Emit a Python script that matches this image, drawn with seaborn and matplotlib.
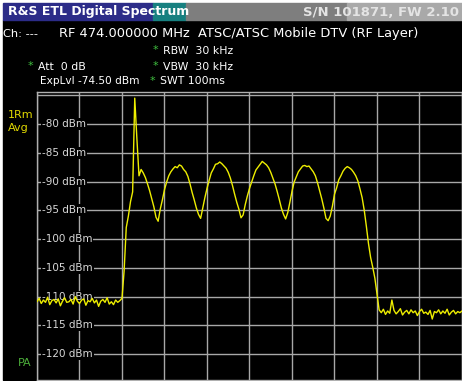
import matplotlib
matplotlib.use("Agg")
import matplotlib.pyplot as plt
from matplotlib.patches import Rectangle
import seaborn as sns
import numpy as np
import pandas as pd

# sweep settings (RF 474 MHz, span 10 MHz)
start_mhz = 469.0
stop_mhz = 479.0
n_points = 201

# trace levels, dBm, one per sweep point
noise_left = [
    -110.9, -110.3, -111.2, -110.6, -111.0, -110.1, -111.4, -110.7, -110.5, -111.1,
    -110.4, -111.6, -110.8, -110.2, -111.0, -110.9, -110.5, -111.3, -110.0, -110.8,
    -111.2, -110.6, -110.4, -111.5, -110.7, -110.9, -110.3, -111.1, -110.6, -111.7,
    -110.8, -110.5, -111.0, -110.2, -111.3, -110.9, -111.4, -110.6, -111.0, -110.7,
    -110.3,
]
channel = [
    -105.5, -98.0, -96.0, -93.5, -91.8, -75.5, -82.5, -89.0, -87.9, -88.5,
    -89.3, -90.4, -91.6, -93.0, -94.4, -96.2, -96.9, -94.8, -93.2, -91.4,
    -90.1, -89.0, -88.3, -87.8, -87.4, -87.6, -87.1, -87.3, -87.9, -88.3,
    -89.1, -90.4, -91.9, -93.2, -94.6, -95.7, -96.4, -94.6, -92.8, -91.2,
    -89.8, -88.5, -87.8, -87.0, -86.9, -86.6, -86.9, -87.3, -87.7, -88.4,
    -89.4, -90.7, -92.2, -93.6, -94.8, -96.3, -95.8, -94.0, -92.5, -91.2,
    -90.1, -89.0, -88.0, -87.5, -87.0, -86.5, -86.8, -87.1, -87.6, -88.4,
    -89.4, -90.4, -91.7, -93.1, -94.6, -95.7, -96.5, -95.4, -93.6, -91.7,
    -90.1, -89.2, -88.3, -87.8, -87.3, -87.2, -87.4, -87.3, -87.8, -88.3,
    -89.0, -90.2, -91.6, -93.0, -94.6, -96.4, -96.8, -96.0, -94.3, -92.2,
    -91.1, -89.7, -89.0, -88.2, -87.7, -87.4, -87.6, -87.9, -88.4, -89.0,
    -89.9, -91.3, -92.8, -95.0, -97.8, -100.8, -103.2, -104.9, -106.8, -109.5,
    -112.3,
]
noise_right = [
    -112.8, -112.2, -113.1, -112.5, -112.9, -110.6, -112.4, -113.0, -112.6, -112.1,
    -113.2, -112.7, -112.4, -113.0, -112.3, -112.8, -112.5, -113.3, -112.6, -112.2,
    -112.9, -112.7, -113.1, -112.4, -113.9, -112.6, -112.8, -112.3, -113.0, -112.5,
    -112.9, -112.2, -113.2, -112.7, -112.4, -113.0, -112.6, -112.8, -112.5,
]
level_ticks = [-80, -85, -90, -95, -100, -105, -110, -115, -120]

levels = noise_left + channel + noise_right
df = pd.DataFrame({"freq": np.linspace(start_mhz, stop_mhz, n_points), "level": levels})

sns.set_style("dark", {"axes.facecolor": "black"})
plt.rcParams["font.family"] = ["DejaVu Sans"]

W, H = 462, 381
fig = plt.figure(figsize=(W / 100, H / 100), dpi=100, facecolor="white")

# screen frame, title bar and header texts in pixel coordinates
bg = fig.add_axes([0, 0, 1, 1])
bg.set_xlim(0, W)
bg.set_ylim(H, 0)
bg.axis("off")
bg.add_patch(Rectangle((3, 20), W - 3, 360, color="black"))
bg.add_patch(Rectangle((3, 3), 150, 17, color="#2c2c88"))
bg.add_patch(Rectangle((153, 3), 33, 17, color="#178080"))
bg.add_patch(Rectangle((186, 3), 161, 17, color="#7e7e7e"))
bg.add_patch(Rectangle((347, 3), W - 347, 17, color="#a9a9a9"))
bg.text(8, 12, "R&S ETL Digital Spectrum", color="white", fontsize=9,
        fontweight="bold", va="center", ha="left")
bg.text(459, 12, "S/N 101871, FW 2.10", color="#e4e4e4", fontsize=9.5,
        fontweight="bold", va="center", ha="right")

hdr = dict(color="white", va="center", ha="left")
bg.text(3, 34, "Ch: ---", fontsize=8.2, **hdr)
bg.text(59, 34, "RF 474.000000 MHz  ATSC/ATSC Mobile DTV (RF Layer)", fontsize=9.4, **hdr)
green = "#3fbf3f"
for x, y in [(153, 50), (28, 66), (153, 66), (150, 81)]:
    bg.text(x, y, "*", color=green, fontsize=8, va="center", ha="left")
bg.text(163, 51, "RBW  30 kHz", fontsize=7.8, **hdr)
bg.text(38, 66.5, "Att  0 dB", fontsize=7.8, **hdr)
bg.text(163, 66.5, "VBW  30 kHz", fontsize=7.8, **hdr)
bg.text(40, 81.5, "ExpLvl -74.50 dBm", fontsize=7.6, **hdr)
bg.text(160, 81.5, "SWT 100ms", fontsize=7.8, **hdr)
bg.text(8, 115, "1Rm", color="#e0d800", fontsize=8, va="center", ha="left")
bg.text(8, 128, "Avg", color="#e0d800", fontsize=8, va="center", ha="left")
bg.text(18, 363, "PA", color="#4caf3a", fontsize=8, va="center", ha="left")

# measurement diagram
left, top, bottom = 37, 92.4, 380
ax = fig.add_axes([left / W, 1 - bottom / H, (W - left) / W, (bottom - top) / H])
ax.set_facecolor("black")
sns.lineplot(data=df, x="freq", y="level", ax=ax, color="#eeee00", linewidth=1.0,
             zorder=5)
ax.set_xlim(start_mhz, stop_mhz)
ax.set_ylim(-124.5, -74.5)
ax.set_xticks(np.arange(start_mhz, stop_mhz + 0.5, 1.0))
ax.set_yticks(np.arange(-120, -74, 5))
ax.grid(True, color="#a8a8a8", linewidth=1.0)
ax.tick_params(length=0, labelbottom=False, labelleft=False)
ax.set_xlabel("")
ax.set_ylabel("")
for side, sp in ax.spines.items():
    sp.set_color("#b0b0b0")
    sp.set_linewidth(1.0)

for v in level_ticks:
    ax.text(469.12, v, f"{v} dBm", color="#d8d8d8", fontsize=7.5, ha="left",
            va="center", zorder=3,
            bbox=dict(facecolor="black", edgecolor="none", pad=0.6))

fig.savefig("out.png", dpi=100, facecolor="white")
